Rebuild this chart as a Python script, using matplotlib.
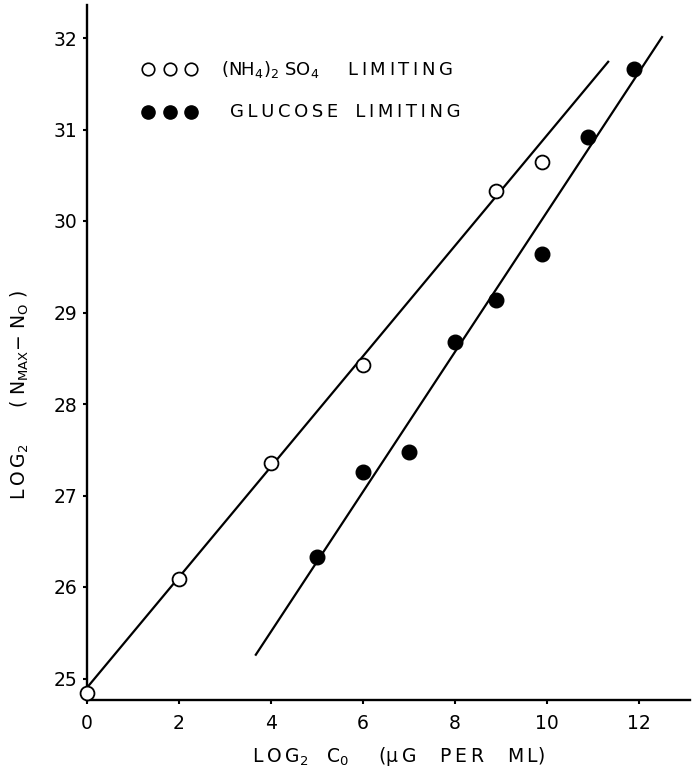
import matplotlib.pyplot as plt
import numpy as np

# (NH4)2SO4 limiting (open circles)
nh4_x = [0, 2, 4, 6, 8.9, 9.9]
nh4_y = [24.84, 26.09, 27.36, 28.43, 30.33, 30.64]

# glucose limiting (filled circles)
glc_x = [5, 6, 7, 8, 8.9, 9.9, 10.9, 11.9]
glc_y = [26.33, 27.26, 27.48, 28.68, 29.14, 29.64, 30.92, 31.66]

# hand-drawn fit lines (end points)
nh4_fit_x = [0, 11.33]
nh4_fit_y = [24.9, 31.74]
glc_fit_x = [3.67, 12.5]
glc_fit_y = [25.26, 32.01]

xticks = [0, 2, 4, 6, 8, 10, 12]
yticks = [25, 26, 27, 28, 29, 30, 31, 32]


def sp(s):
    # wide letter spacing like the stencilled lettering
    return '\u2009'.join(s)


W, H = 693, 773
fig = plt.figure(figsize=(W / 100, H / 100), dpi=100)
ax = fig.add_axes([87 / W, 1 - 700 / H, 603 / W, 695 / H])

ax.plot(nh4_fit_x, nh4_fit_y, color='black', lw=1.6, zorder=2)
ax.plot(glc_fit_x, glc_fit_y, color='black', lw=1.6, zorder=2)
ax.plot(nh4_x, nh4_y, 'o', ms=10, mfc='white', mec='black', mew=1.3,
        zorder=3, clip_on=False)
ax.plot(glc_x, glc_y, 'o', ms=10.5, mfc='black', mec='black', zorder=3)

ax.set_xlim(0, 603 / 46)
ax.set_ylim(25 - 21.5 / 91.5, 32 + 33 / 91.5)
ax.set_xticks(xticks)
ax.set_yticks(yticks)
ax.tick_params(direction='out', length=3, width=1.5, labelsize=13.5)
ax.tick_params(axis='x', pad=7)
ax.tick_params(axis='y', pad=4)
for s in ['top', 'right']:
    ax.spines[s].set_visible(False)
for s in ['left', 'bottom']:
    ax.spines[s].set_linewidth(1.7)

# legend drawn as markers + text, like the original lettering
leg_x = [1.33, 1.8, 2.27]
ax.plot(leg_x, [31.66] * 3, 'o', ms=9, mfc='white', mec='black', mew=1.2)
ax.plot(leg_x, [31.19] * 3, 'o', ms=9.5, mfc='black', mec='black')
ax.text(2.92, 31.66,
        r'(NH$_\mathregular{4}$)$_\mathregular{2}$ SO$_\mathregular{4}$     ' + sp('LIMITING'),
        fontsize=13, va='center', ha='left')
ax.text(3.1, 31.19, sp('GLUCOSE') + '   ' + sp('LIMITING'),
        fontsize=13, va='center', ha='left')

fig.text(399 / W, 1 - 757 / H,
         sp('LOG') + r'$_\mathregular{2}$   C$_\mathregular{0}$     (µ' + '\u2009G    '
         + sp('PER') + '    ' + sp('ML') + ')',
         fontsize=13.5, ha='center', va='center')
fig.text(20 / W, 1 - 395 / H,
         sp('LOG') + r'$_\mathregular{2}$      ( N$_\mathregular{MAX}$$-$ N$_\mathregular{O}$ )',
         fontsize=13.5, ha='center', va='center', rotation=90)

fig.savefig('out.png', dpi=100)
